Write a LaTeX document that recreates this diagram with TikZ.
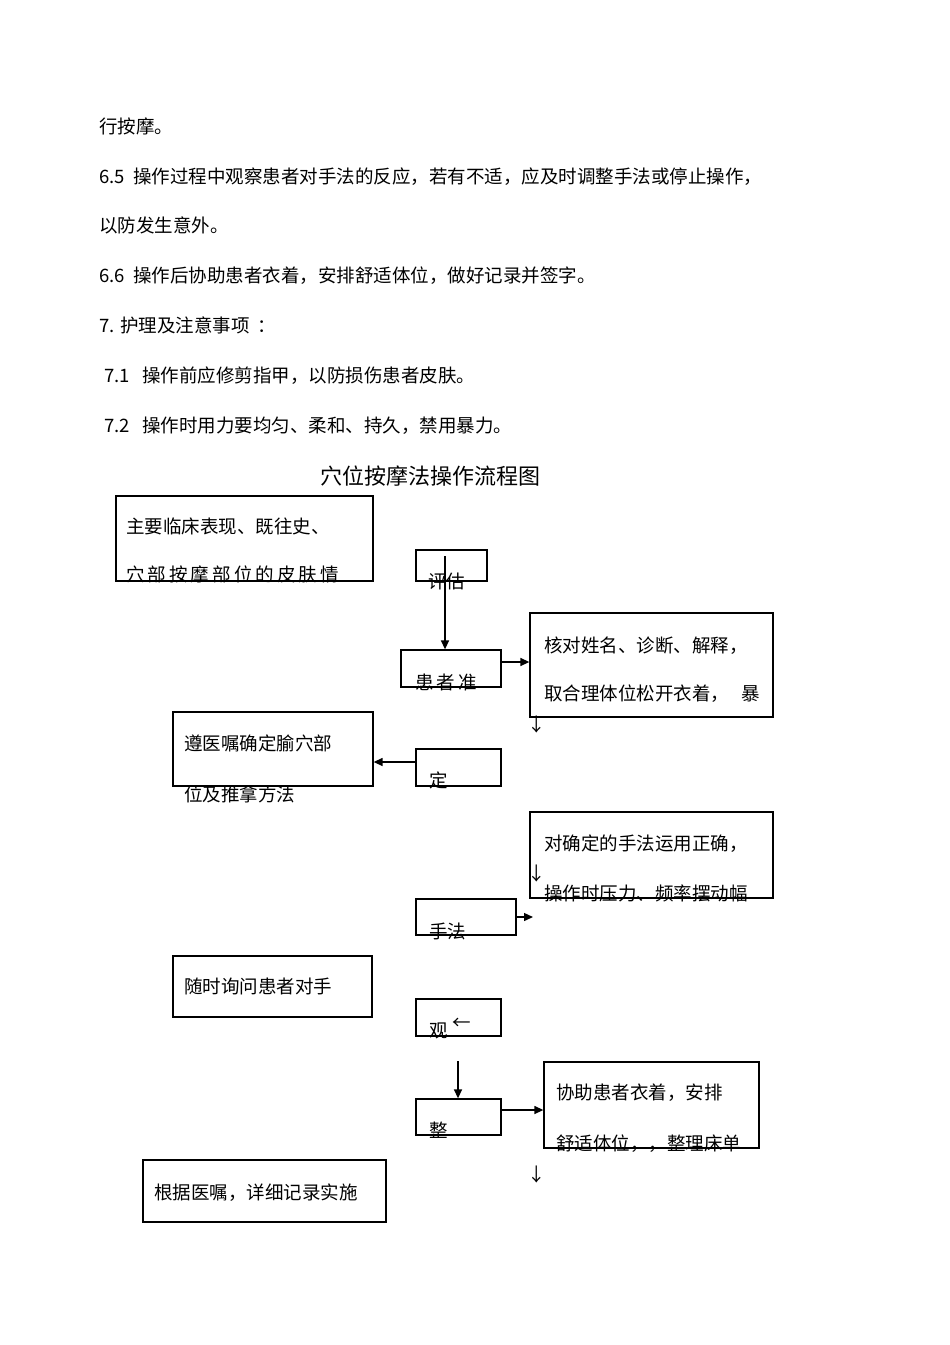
\documentclass[tikz,border=0pt]{standalone}
\usepackage{fontspec}
\setmainfont{Liberation Sans}
\newfontfamily\cjk{Noto Sans CJK SC}
\usetikzlibrary{fit,arrows.meta}
\begin{document}
\begin{tikzpicture}[x=1pt,y=-1pt,
  box/.style={draw,line width=1.3pt,inner sep=0pt},
  txt/.style={anchor=base west,inner sep=0pt,font=\cjk\fontsize{18.5}{18.5}\selectfont},
  arr/.style={line width=1.4pt,-{Triangle[length=9pt,width=8pt]}}]
\useasboundingbox (0,0) rectangle (950,1345);
% body text
\node[txt] (p1) at (99,133) {行按摩。};
\node[txt] (p2) at (99,183) {6.5\ \ 操作过程中观察患者对手法的反应，若有不适，应及时调整手法或停止操作，};
\node[txt] (p3) at (99,232) {以防发生意外。};
\node[txt] (p4) at (99,282) {6.6\ \ 操作后协助患者衣着，安排舒适体位，做好记录并签字。};
\node[txt] (p5) at (99,332) {7. 护理及注意事项\ \ ：};
\node[txt] (p6) at (104,382) {7.1\ \ \ 操作前应修剪指甲，以防损伤患者皮肤。};
\node[txt] (p7) at (104,432) {7.2\ \ \ 操作时用力要均匀、柔和、持久，禁用暴力。};
\node[anchor=base,inner sep=0pt,font=\cjk\fontsize{22}{22}\selectfont] (title) at (430,484) {穴位按摩法操作流程图};
% boxes
\node[box,fit={(116,496)(373,581)}] (b1) {};
\node[box,fit={(416,550)(487,581)}] (pg) {};
\node[box,fit={(401,650)(501,687)}] (hz) {};
\node[box,fit={(530,613)(773,717)}] (hd) {};
\node[box,fit={(173,712)(373,786)}] (zy) {};
\node[box,fit={(416,749)(501,786)}] (dw) {};
\node[box,fit={(530,812)(773,898)}] (dq) {};
\node[box,fit={(416,899)(516,935)}] (sf) {};
\node[box,fit={(173,956)(372,1017)}] (ss) {};
\node[box,fit={(416,999)(501,1036)}] (gc) {};
\node[box,fit={(416,1099)(501,1135)}] (zl) {};
\node[box,fit={(544,1062)(759,1148)}] (xz) {};
\node[box,fit={(143,1160)(386,1222)}] (gj) {};
% box texts
\node[txt] (t1a) at (126,533) {主要临床表现、既往史、};
\node[txt] (t1b) at (126,581) {穴\,部\,按\,摩\,部\,位\,的\,皮\,肤\,情};
\node[txt] (t2) at (428,588) {评估};
\node[txt] (t3) at (415,689) {患\,者\,准};
\node[txt] (t4a) at (544,652) {核对姓名、诊断、解释，};
\node[txt] (t4b) at (544,700) {取合理体位松开衣着，\ \ \ 暴};
\node[txt] (t5a) at (184,750) {遵医嘱确定腧穴部};
\node[txt] (t5b) at (184,801) {位及推拿方法};
\node[txt] (t6) at (429,787) {定};
\node[txt] (t7a) at (544,850) {对确定的手法运用正确，};
\node[txt] (t7b) at (544,900) {操作时压力、频率摆动幅};
\node[txt] (t8) at (429,938) {手法};
\node[txt] (t9) at (184,993) {随时询问患者对手};
\node[txt] (t10) at (429,1037) {观};
\node[txt] (t11) at (429,1137) {整};
\node[txt] (t12a) at (556,1099) {协助患者衣着，安排};
\node[txt] (t12b) at (556,1150) {舒适体位，，整理床单};
\node[txt] (t13) at (154,1199) {根据医嘱，详细记录实施};
% small glyph arrows
\node[txt] (s1) at (527,731) {↓};
\node[txt] (s2) at (527,880) {↓};
\node[txt] (s3) at (452,1029) {←};
\node[txt] (s4) at (527,1181) {↓};
% connectors
\coordinate (c1) at (445,556);
\coordinate (c2) at (458,1061);
\draw[arr] (c1) -- (c1|-hz.north);
\draw[arr] (hz.east|-0,662) -- (hd.west|-0,662);
\draw[arr] (dw.west|-0,762) -- (zy.east|-0,762);
\coordinate (c3) at (533,917);
\draw[arr] (sf.east|-0,917) -- (c3);
\draw[arr] (c2) -- (c2|-zl.north);
\draw[arr] (zl.east|-0,1110) -- (xz.west|-0,1110);
\end{tikzpicture}
\end{document}
